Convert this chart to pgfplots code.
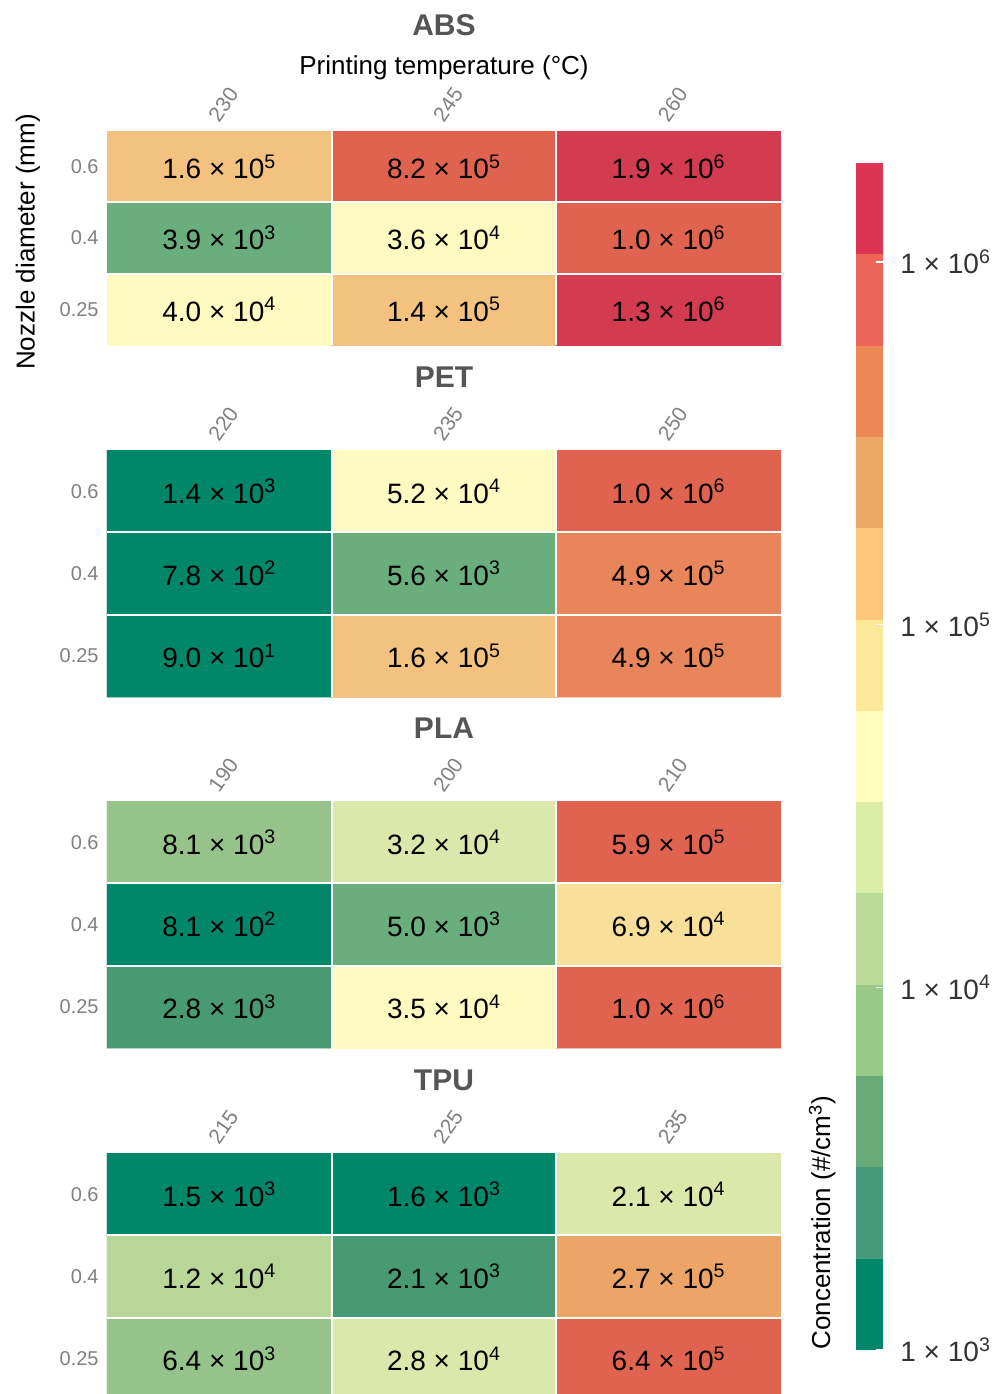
\documentclass[border=0pt]{standalone}
\usepackage{fontspec}
\setmainfont{Liberation Sans}
\usepackage{pgfplots}
\pgfplotsset{compat=1.18}
\usepackage{pgfplotstable}

\definecolor{titlegray}{HTML}{555555}
\definecolor{tickgray}{HTML}{808080}
\definecolor{cb0}{RGB}{0,135,106}
\definecolor{cb1}{RGB}{70,153,122}
\definecolor{cb2}{RGB}{102,170,120}
\definecolor{cb3}{RGB}{152,202,135}
\definecolor{cb4}{RGB}{185,218,153}
\definecolor{cb5}{RGB}{220,236,169}
\definecolor{cb6}{RGB}{255,254,192}
\definecolor{cb7}{RGB}{253,232,154}
\definecolor{cb8}{RGB}{252,198,123}
\definecolor{cb9}{RGB}{235,168,102}
\definecolor{cb10}{RGB}{236,136,84}
\definecolor{cb11}{RGB}{236,101,86}
\definecolor{cb12}{RGB}{220,52,82}

% x = temperature index, y = nozzle index (0 = 0.25, 1 = 0.4, 2 = 0.6), v = concentration
\pgfplotstableread{
x y v
0 0 4.0e4
1 0 1.4e5
2 0 1.3e6
0 1 3.9e3
1 1 3.6e4
2 1 1.0e6
0 2 1.6e5
1 2 8.2e5
2 2 1.9e6
}\absdata
\pgfplotstableread{
x y v
0 0 9.0e1
1 0 1.6e5
2 0 4.9e5
0 1 7.8e2
1 1 5.6e3
2 1 4.9e5
0 2 1.4e3
1 2 5.2e4
2 2 1.0e6
}\petdata
\pgfplotstableread{
x y v
0 0 2.8e3
1 0 3.5e4
2 0 1.0e6
0 1 8.1e2
1 1 5.0e3
2 1 6.9e4
0 2 8.1e3
1 2 3.2e4
2 2 5.9e5
}\pladata
\pgfplotstableread{
x y v
0 0 6.4e3
1 0 2.8e4
2 0 6.4e5
0 1 1.2e4
1 1 2.1e3
2 1 2.7e5
0 2 1.5e3
1 2 1.6e3
2 2 2.1e4
}\tpudata

\def\sci#1e#2\relax{#1 × 10\textsuperscript{#2}}

\pgfplotsset{
  colormap={cells}{rgb255=(0,135,106) rgb255=(71,154,115) rgb255=(106,174,125)
    rgb255=(150,195,138) rgb255=(183,214,152) rgb255=(220,232,171) rgb255=(255,250,192)
    rgb255=(248,223,154) rgb255=(243,194,126) rgb255=(236,165,103) rgb255=(233,133,90)
    rgb255=(224,99,79) rgb255=(211,59,80)},
  heat/.style={
    scale only axis, width=337pt, anchor=north west,
    xmin=-0.5, xmax=2.5, ymin=-0.5, ymax=2.5,
    axis line style={draw=none},
    major tick length=0pt, minor tick length=0pt,
    xtick={0,1,2}, ytick={0,1,2}, yticklabels={0.25,0.4,0.6},
    xticklabel pos=upper,
    xticklabel style={rotate=55, anchor=south west, font=\fontsize{10.5}{12}\selectfont,
      text=tickgray, inner sep=1pt, xshift=2pt, yshift=1pt},
    yticklabel style={font=\fontsize{10}{12}\selectfont, text=tickgray, anchor=east,
      inner sep=0pt, xshift=-4pt},
    minor xtick={0.5,1.5}, minor ytick={0.5,1.5},
    minor grid style={white, line width=1pt},
    xminorgrids, yminorgrids,
    axis on top,
    title style={font=\bfseries\fontsize{15}{18}\selectfont, text=titlegray,
      at={(0.5,1)}, anchor=center},
    colormap name=cells, colormap access=direct,
  },
}

\newcommand{\heatplot}[1]{%
  \addplot[matrix plot*, mesh/cols=3,
    point meta={min(12,max(0,floor((log10(\thisrow{v})-3)/0.2518)))},
  ] table {#1};
  \addplot[only marks, mark=*, mark size=0pt, mark options={draw=none, fill=none},
    point meta=explicit symbolic,
    nodes near coords={\expandafter\sci\pgfplotspointmeta\relax},
    every node near coord/.append style={anchor=center, text=black,
      font=\fontsize{14}{16}\selectfont},
  ] table[meta=v] {#1};}

\begin{document}
\begin{tikzpicture}
\path[use as bounding box] (0,0) rectangle (500pt,-697pt);

% ABS
\begin{axis}[heat, at={(53.5pt,-65.5pt)}, height=107pt,
  xticklabels={230,245,260},
  title={ABS}, title style={yshift=47pt},
  xlabel={Printing temperature (°C)},
  xlabel style={at={(0.5,1)}, anchor=center, yshift=31.5pt, font=\fontsize{13}{15}\selectfont},
]
\heatplot{\absdata}
\end{axis}

% PET
\begin{axis}[heat, at={(53.5pt,-225pt)}, height=123.5pt,
  xticklabels={220,235,250},
  title={PET}, title style={yshift=30.5pt},
]
\heatplot{\petdata}
\end{axis}

% PLA
\begin{axis}[heat, at={(53.5pt,-400.5pt)}, height=123.5pt,
  xticklabels={190,200,210},
  title={PLA}, title style={yshift=30.5pt},
]
\heatplot{\pladata}
\end{axis}

% TPU
\begin{axis}[heat, at={(53.5pt,-576.5pt)}, height=123.5pt,
  xticklabels={215,225,235},
  title={TPU}, title style={yshift=30.5pt},
]
\heatplot{\tpudata}
\end{axis}

% colour bar
\begin{axis}[at={(428pt,-675pt)}, anchor=south west, scale only axis,
  width=13.5pt, height=593.5pt,
  xmin=0, xmax=1, ymin=3, ymax=6.273,
  axis line style={draw=none},
  xtick=\empty,
  ytick={3,4,5,6},
  yticklabels={1 × 10\textsuperscript{3},1 × 10\textsuperscript{4},1 × 10\textsuperscript{5},1 × 10\textsuperscript{6}},
  ytick pos=right, yticklabel pos=right,
  tick align=inside, major tick length=3.5pt,
  ytick style={white, line width=0.6pt},
  yticklabel style={anchor=west, inner sep=0pt, xshift=8.5pt,
    font=\fontsize{14}{16}\selectfont, text=black!80},
  axis on top,
]
\addplot[fill=cb0, draw=none] coordinates {(0,3.0000) (1,3.0000) (1,3.2518) (0,3.2518)} -- cycle;
\addplot[fill=cb1, draw=none] coordinates {(0,3.2518) (1,3.2518) (1,3.5035) (0,3.5035)} -- cycle;
\addplot[fill=cb2, draw=none] coordinates {(0,3.5035) (1,3.5035) (1,3.7553) (0,3.7553)} -- cycle;
\addplot[fill=cb3, draw=none] coordinates {(0,3.7553) (1,3.7553) (1,4.0071) (0,4.0071)} -- cycle;
\addplot[fill=cb4, draw=none] coordinates {(0,4.0071) (1,4.0071) (1,4.2588) (0,4.2588)} -- cycle;
\addplot[fill=cb5, draw=none] coordinates {(0,4.2588) (1,4.2588) (1,4.5106) (0,4.5106)} -- cycle;
\addplot[fill=cb6, draw=none] coordinates {(0,4.5106) (1,4.5106) (1,4.7624) (0,4.7624)} -- cycle;
\addplot[fill=cb7, draw=none] coordinates {(0,4.7624) (1,4.7624) (1,5.0142) (0,5.0142)} -- cycle;
\addplot[fill=cb8, draw=none] coordinates {(0,5.0142) (1,5.0142) (1,5.2659) (0,5.2659)} -- cycle;
\addplot[fill=cb9, draw=none] coordinates {(0,5.2659) (1,5.2659) (1,5.5177) (0,5.5177)} -- cycle;
\addplot[fill=cb10, draw=none] coordinates {(0,5.5177) (1,5.5177) (1,5.7695) (0,5.7695)} -- cycle;
\addplot[fill=cb11, draw=none] coordinates {(0,5.7695) (1,5.7695) (1,6.0212) (0,6.0212)} -- cycle;
\addplot[fill=cb12, draw=none] coordinates {(0,6.0212) (1,6.0212) (1,6.2730) (0,6.2730)} -- cycle;
\end{axis}

\node[rotate=90, anchor=south west, inner sep=0pt, font=\fontsize{13}{15}\selectfont]
  at (418pt,-675pt) {Concentration (\#/cm\textsuperscript{3})};
\node[rotate=90, anchor=center, inner sep=0pt, font=\fontsize{13}{15}\selectfont]
  at (14pt,-121pt) {Nozzle diameter (mm)};
\end{tikzpicture}
\end{document}
